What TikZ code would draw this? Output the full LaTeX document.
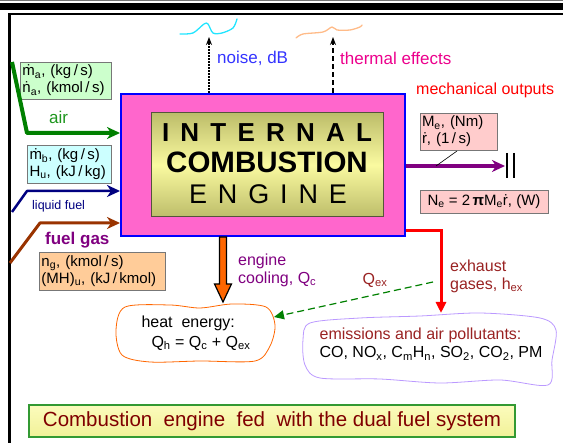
\documentclass[tikz,border=0pt]{standalone}
\usepackage{fontspec}
\setmainfont{Liberation Sans}
\usepackage{xcolor}
\usepackage{tikz}
\usetikzlibrary{arrows.meta, positioning}
\definecolor{icepink}{HTML}{FF66CC}
\definecolor{iceolive}{HTML}{BDBD6A}
\definecolor{iceolivedark}{HTML}{55553A}
\definecolor{iceyellow}{HTML}{FAFAA0}
\definecolor{icegray}{HTML}{777777}
\definecolor{icegreen}{HTML}{008000}
\definecolor{iceairtext}{HTML}{1E961E}
\definecolor{iceairbox}{HTML}{CCFFCC}
\definecolor{icefuelbox}{HTML}{CCFFFF}
\definecolor{icenavy}{HTML}{000080}
\definecolor{icebrown}{HTML}{993300}
\definecolor{icepurple}{HTML}{800080}
\definecolor{icegasbox}{HTML}{FFCC99}
\definecolor{icenoise}{HTML}{3333FF}
\definecolor{icemebox}{HTML}{FFCCCC}
\definecolor{icered}{HTML}{FF0000}
\definecolor{iceexhaust}{HTML}{992222}
\definecolor{iceorange}{HTML}{FF6600}
\definecolor{icelavender}{HTML}{BB99FF}
\definecolor{icecyan}{HTML}{22E5FF}
\definecolor{icepeach}{HTML}{FFBB88}
\definecolor{icebannerline}{HTML}{339933}
\definecolor{icebannertext}{HTML}{800000}

\begin{document}
\begin{tikzpicture}[
  x=1pt, y=-1pt,
  databox/.style={rectangle, draw=icegray, line width=0.7pt, align=left, inner sep=2pt, text=black, font=\fontsize{15}{17}\selectfont},
  lbl/.style={anchor=west, align=left, inner sep=0pt, font=\fontsize{16}{18}\selectfont},
  feed/.style={-{Stealth[length=13pt,width=12pt,inset=4pt]}, line join=round},
  upout/.style={-{Stealth[length=8pt,width=6pt]}, black, line width=1.4pt},
  blob/.style={line width=0.8pt},
  wave/.style={line width=1.3pt, line cap=round},
  word/.style={anchor=base, inner sep=0pt, text=black}
]
\useasboundingbox (0,0) rectangle (563,443);
\fill[icegray] (0,0) rectangle (563,1.3);
\fill[black] (0,3) rectangle (563,10);
\fill[black] (8,13) rectangle (563,15.5);
\fill[black] (8,13) rectangle (10.5,443);

\node[draw=blue, line width=2pt, fill=icepink, minimum width=284, minimum height=142] (ice) at (263,165) {};
\node[draw=iceolivedark, line width=1pt, top color=iceolive, bottom color=iceolive, middle color=iceyellow, minimum width=232, minimum height=104] (core) at (267,165) {};
\node[word, font=\fontsize{26}{28}\selectfont\bfseries] (wordint) at (267,142) {\makebox[210pt][s]{I\hfill N\hfill T\hfill E\hfill R\hfill N\hfill A\hfill L}};
\node[word, font=\fontsize{29.5}{31}\selectfont\bfseries] (wordcomb) at (267,173) {COMBUSTION};
\node[word, font=\fontsize{27}{29}\selectfont] (wordeng) at (268,204) {\makebox[158pt][s]{E\hfill N\hfill G\hfill I\hfill N\hfill E}};

\coordinate (noisetip) at (209,37);
\coordinate (thermtip) at (333,37);
\draw[upout, dash pattern=on 1.5pt off 1.5pt] (ice.north -| noisetip) -- (noisetip);
\draw[upout, dash pattern=on 5pt off 3pt] (ice.north -| thermtip) -- (thermtip);
\draw[icecyan, wave] plot[smooth] coordinates {(180,34) (193,33) (204,24) (208,24) (213,33) (222,33) (233,28) (237,19)};
\draw[icepeach, wave] plot[smooth] coordinates {(296,38) (303,34) (323,32) (332,27) (337,30) (350,30) (360,27) (362,25)};
\node[lbl, text=icenoise, font=\fontsize{17}{19}\selectfont] (noise) at (217,58) {noise, dB};
\node[lbl, text=magenta, font=\fontsize{17}{19}\selectfont] (thermal) at (340,58) {thermal effects};
\node[lbl, text=icered] (mech) at (416,90) {mechanical outputs};

\node[databox, fill=iceairbox, text width=87, minimum height=37] (airbox) at (66,80.5) {ṁ\textsubscript{a}, (kg\,/\,s)\\ṅ\textsubscript{a}, (kmol\,/\,s)};
\coordinate (airtail) at (12,62);
\coordinate (airbend) at (27,133);
\draw[feed, icegreen, line width=4pt] (airtail) -- (airbend) -- (airbend -| ice.west);
\node[lbl, text=iceairtext, font=\fontsize{17}{19}\selectfont] (airlbl) at (49,117) {air};

\node[databox, fill=icefuelbox, text width=80, minimum height=38] (fuelbox) at (69.5,164) {ṁ\textsubscript{b}, (kg\,/\,s)\\H\textsubscript{u}, (kJ\,/\,kg)};
\coordinate (fueltail) at (12,212);
\coordinate (fuelbend) at (27,191);
\draw[feed, icenavy, line width=2.5pt] (fueltail) -- (fuelbend) -- (fuelbend -| ice.west);
\node[lbl, text=icenavy, font=\fontsize{12.5}{14}\selectfont] (fuellbl) at (32,206) {liquid fuel};

\coordinate (gastail) at (10,263);
\coordinate (gasbend) at (40,223);
\draw[feed, icebrown, line width=3pt] (gastail) -- (gasbend) -- (gasbend -| ice.west);
\node[lbl, text=icepurple, font=\fontsize{17}{19}\selectfont\bfseries] (gaslbl) at (45,240) {fuel gas};
\node[databox, fill=icegasbox, text width=122, minimum height=38] (gasbox) at (102.5,271) {n\textsubscript{g}, (kmol\,/\,s)\\(MH)\textsubscript{u}, (kJ\,/\,kmol)};

\node[databox, fill=icemebox, text width=73, minimum height=37] (mebox) at (458.5,131.5) {M\textsubscript{e}, (Nm)\\ṙ, (1\,/\,s)};
\coordinate (shaftend) at (505,166);
\draw[feed, icepurple, line width=4pt] (ice.east |- shaftend) -- (shaftend);
\draw[line width=1.2pt] (507,153) -- (507,178) (514,153) -- (514,178);
\draw[line width=0.6pt] (436,166) -- (457,151);
\node[databox, fill=icemebox, minimum width=128, minimum height=23] (nebox) at (484,201.5) {N\textsubscript{e} = 2\,\textbf{π}M\textsubscript{e}ṙ, (W)};

\draw[fill=iceorange, line width=1.2pt, line join=miter] (219.5,237) -- (219.5,284) -- (214.5,284) -- (223,302) -- (231.5,284) -- (226.5,284) -- (226.5,237) -- cycle;
\node[lbl, text=icepurple] (cool) at (238,270) {engine\\cooling, Q\textsubscript{c}};

\coordinate (exbend) at (441,231);
\coordinate (extip) at (441,313);
\draw[icered, line width=3pt, -{Triangle[length=11pt,width=10pt]}] (exbend -| ice.east) -- (exbend) -- (extip);
\node[lbl, text=iceexhaust] (exlbl) at (450,276) {exhaust\\gases, h\textsubscript{ex}};
\node[text=iceexhaust, font=\fontsize{16}{18}\selectfont] (qex) at (375,280) {Q\textsubscript{ex}};

\node[align=left, font=\fontsize{16}{20}\selectfont] (heat) at (196,333) {heat\ \ energy:\\\hspace*{10pt}Q\textsubscript{h} = Q\textsubscript{c} + Q\textsubscript{ex}};
\draw[iceorange, blob] plot[smooth cycle] coordinates {(125,307) (170,305) (200,308) (232,304) (266,307) (275,325) (270,346) (255,361) (200,361) (150,362) (122,355) (116,330)};
\coordinate (qtail) at (433,282);
\coordinate (heattip) at (274,317);
\draw[icegreen, line width=1.2pt, dash pattern=on 7pt off 4pt, -{Triangle[length=10pt,width=9pt]}] (qtail) -- (heattip);

\node[align=left, font=\fontsize{16}{18}\selectfont] (emis) at (431,344) {\textcolor{iceexhaust}{emissions and air pollutants:}\\CO, NO\textsubscript{x}, C\textsubscript{m}H\textsubscript{n}, SO\textsubscript{2}, CO\textsubscript{2}, PM};
\draw[icelavender, blob] plot[smooth cycle] coordinates {(310,323) (360,318) (420,316) (480,313) (540,318) (556,330) (552,360) (548,385) (500,380) (440,383) (380,379) (320,378) (305,365) (303,340)};

\node[draw=icebannerline, line width=1.5pt, top color=iceyellow!70!white, bottom color=iceyellow!85!iceolive, minimum width=486, minimum height=32, text=icebannertext, font=\fontsize{20.5}{22}\selectfont] (banner) at (272,421) {Combustion\ \ engine\ \ fed\ \ with the dual fuel system};
\end{tikzpicture}
\end{document}
